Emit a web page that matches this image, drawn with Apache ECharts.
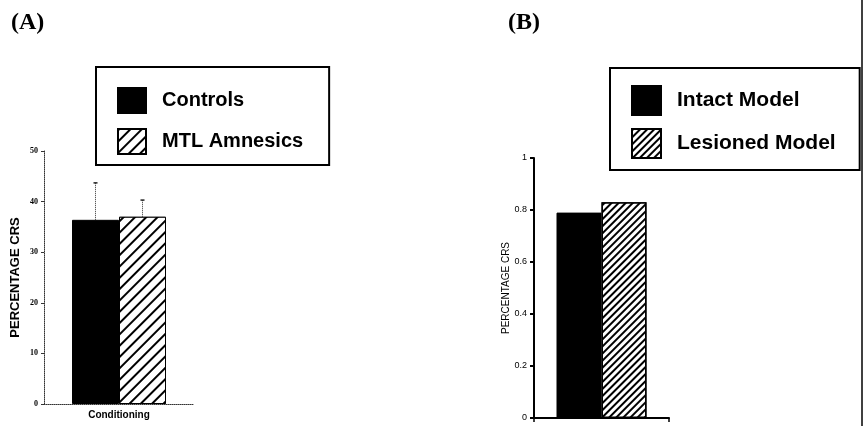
<!DOCTYPE html>
<html>
<head>
<meta charset="utf-8">
<script src="https://cdn.jsdelivr.net/npm/echarts@6/dist/echarts.min.js"></script>
<style>
  html, body { margin: 0; padding: 0; background: #fff; }
  #chart { width: 865px; height: 426px; }
</style>
</head>
<body>
<div id="chart"></div>
<script>
// panel A: human data
const catsA = ['Conditioning'];
const controls = [36.4];
const amnesics = [37.0];
const controlsErr = [7.3];
const amnesicsErr = [3.3];
const ticksA = [0, 10, 20, 30, 40, 50];

// panel B: model data
const catsB = [''];
const intact = [0.79];
const lesioned = [0.83];
const ticksB = [0, 0.2, 0.4, 0.6, 0.8, 1];

const hatch = (gap) => ({
  symbol: 'rect',
  symbolSize: 1,
  dashArrayX: [1, 0],
  dashArrayY: [1.5, gap],
  rotation: -Math.PI / 4,
  color: '#000',
  backgroundColor: '#fff'
});

const chart = echarts.init(document.getElementById('chart'));

// dotted error bar drawn above one bar
function errorBar(barW) {
  return function (params, api) {
    const side = api.value(3);
    const base = api.coord([api.value(0), api.value(1)]);
    const top = api.coord([api.value(0), api.value(1) + api.value(2)]);
    const x = base[0] + side * barW / 2;
    return {
      type: 'group',
      children: [
        { type: 'line', shape: { x1: x, y1: base[1], x2: x, y2: top[1] },
          style: { stroke: '#333', lineWidth: 1, lineDash: [1, 1] } },
        { type: 'line', shape: { x1: x - 2, y1: top[1], x2: x + 2, y2: top[1] },
          style: { stroke: '#222', lineWidth: 1.5 } }
      ]
    };
  };
}

const option = {
  animation: false,
  title: [
    { text: '(A)', left: 6, top: 6,
      textStyle: { fontFamily: 'Liberation Serif', fontWeight: 'bold', fontSize: 24, color: '#000' } },
    { text: '(B)', left: 503, top: 6,
      textStyle: { fontFamily: 'Liberation Serif', fontWeight: 'bold', fontSize: 24, color: '#000' } }
  ],
  legend: [
    {
      data: ['Controls', 'MTL Amnesics'],
      orient: 'vertical', left: 96, top: 67,
      padding: [20, 26, 10, 21],
      icon: 'rect',
      itemWidth: 28, itemHeight: 25, itemGap: 14,
      borderColor: '#000', borderWidth: 2,
      textStyle: { fontFamily: 'Liberation Sans', fontWeight: 'bold', fontSize: 20, color: '#000', padding: [0, 0, 0, 11] }
    },
    {
      data: ['Intact Model', 'Lesioned Model'],
      orient: 'vertical', left: 610, top: 68,
      padding: [17, 24, 11, 21],
      icon: 'rect',
      itemWidth: 29, itemHeight: 29, itemGap: 12,
      borderColor: '#000', borderWidth: 2,
      textStyle: { fontFamily: 'Liberation Sans', fontWeight: 'bold', fontSize: 21, color: '#000', padding: [0, 0, 0, 11] }
    }
  ],
  grid: [
    { left: 44, top: 151, width: 150, height: 253 },
    { left: 534, top: 158, width: 135, height: 260 }
  ],
  xAxis: [
    {
      gridIndex: 0, type: 'category', data: catsA,
      axisLine: { lineStyle: { color: '#333', width: 1, type: 'dotted' } },
      axisTick: { show: false },
      axisLabel: { fontFamily: 'Liberation Sans', fontWeight: 'bold', fontSize: 10, color: '#000', margin: 6 }
    },
    {
      gridIndex: 1, type: 'category', data: catsB,
      axisLine: { lineStyle: { color: '#000', width: 2 } },
      axisTick: { show: true, length: 4, lineStyle: { color: '#000', width: 1.5 } },
      axisLabel: { show: false }
    }
  ],
  yAxis: [
    {
      gridIndex: 0, type: 'value', min: 0, max: 50, interval: 10,
      name: 'PERCENTAGE CRS', nameLocation: 'middle', nameGap: 22,
      nameTextStyle: { fontFamily: 'Liberation Sans', fontWeight: 'bold', fontSize: 13, color: '#000' },
      axisLine: { show: true, lineStyle: { color: '#333', width: 1, type: 'dotted' } },
      axisTick: { show: true, length: 3, lineStyle: { color: '#333' } },
      splitLine: { show: false },
      axisLabel: { fontFamily: 'Liberation Serif', fontWeight: 'bold', fontSize: 8, color: '#000', margin: 6,
        customValues: ticksA }
    },
    {
      gridIndex: 1, type: 'value', min: 0, max: 1, interval: 0.2,
      name: 'PERCENTAGE CRS', nameLocation: 'middle', nameGap: 23, nameMoveOverlap: false,
      nameTextStyle: { fontFamily: 'Liberation Sans', fontSize: 10, color: '#000' },
      axisLine: { show: true, lineStyle: { color: '#000', width: 2 } },
      axisTick: { show: true, length: 4, lineStyle: { color: '#000', width: 2 } },
      splitLine: { show: false },
      axisLabel: { fontFamily: 'Liberation Sans', fontSize: 9, color: '#000', margin: 7,
        customValues: ticksB }
    }
  ],
  series: [
    {
      name: 'Controls', type: 'bar', xAxisIndex: 0, yAxisIndex: 0,
      data: controls, barWidth: 47, barGap: '0%',
      itemStyle: { color: '#000', borderColor: '#000', borderWidth: 1 }
    },
    {
      name: 'MTL Amnesics', type: 'bar', xAxisIndex: 0, yAxisIndex: 0,
      data: amnesics, barWidth: 47, barGap: '0%',
      itemStyle: { color: '#fff', borderColor: '#000', borderWidth: 1, decal: hatch(6) }
    },
    {
      name: 'errA', type: 'custom', xAxisIndex: 0, yAxisIndex: 0,
      renderItem: errorBar(47),
      data: [[0, controls[0], controlsErr[0], -1], [0, amnesics[0], amnesicsErr[0], 1]],
      z: 5
    },
    {
      name: 'Intact Model', type: 'bar', xAxisIndex: 1, yAxisIndex: 1,
      data: intact, barWidth: 45, barGap: '0%',
      itemStyle: { color: '#000', borderColor: '#000', borderWidth: 1 }
    },
    {
      name: 'Lesioned Model', type: 'bar', xAxisIndex: 1, yAxisIndex: 1,
      data: lesioned, barWidth: 45, barGap: '0%',
      itemStyle: { color: '#fff', borderColor: '#000', borderWidth: 1.5, decal: hatch(3) }
    }
  ],
  graphic: [
    { type: 'line', shape: { x1: 862, y1: 0, x2: 862, y2: 426 }, style: { stroke: '#000', lineWidth: 1.5 } }
  ]
};

chart.setOption(option);
</script>
</body>
</html>
